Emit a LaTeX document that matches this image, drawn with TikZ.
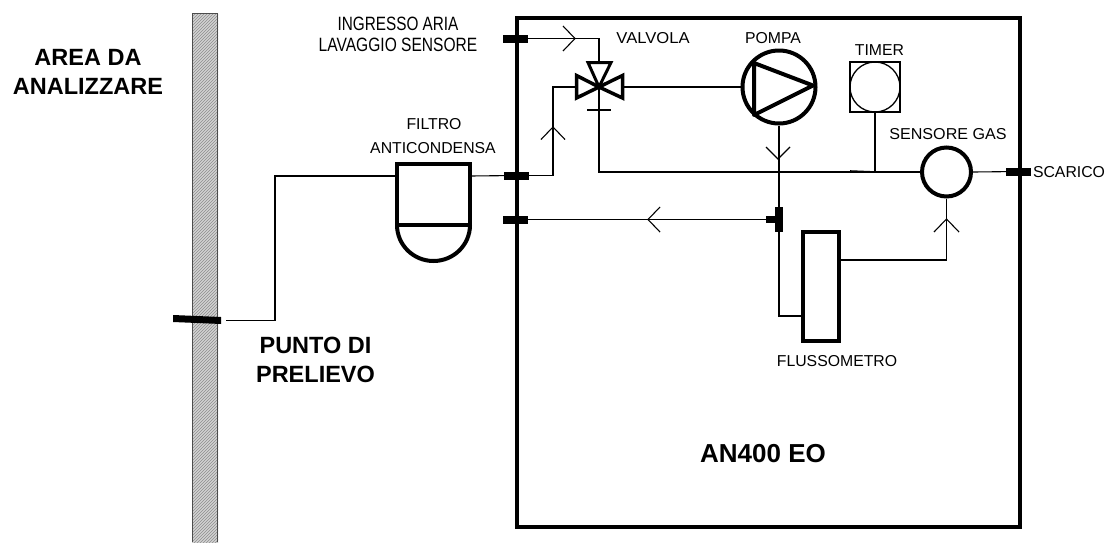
\documentclass[tikz,border=0pt]{standalone}
\usepackage{fontspec}
\setmainfont{Liberation Sans}
\begin{document}
\begin{tikzpicture}[x=1pt,y=-1pt,
  thin line/.style={line width=1.1pt,black},
  thick line/.style={line width=4pt,black,line join=miter},
  mid line/.style={line width=1.6pt,black},
  port/.style={fill=black,inner sep=0pt,minimum width=25pt,minimum height=8pt,draw=none},
  lab/.style={font=\fontsize{15.8}{18}\selectfont,inner sep=0pt,anchor=base,black},
  big/.style={font=\fontsize{23.5}{28}\selectfont\bfseries,inner sep=0pt,anchor=base,black},
  chev/.style={line width=1.1pt,black,line join=miter}
]
\useasboundingbox (0,0) rectangle (1111,542);
% wall
\begin{scope}
\clip (192,13) rectangle (218,542);
\fill[white] (192,13) rectangle (218,542);
\foreach \k in {0,3,...,640}{\draw[line width=1.3pt,gray!80] (170,\k) -- (240,\k-70);}
\end{scope}
\draw[line width=1.4pt,black!70] (192.5,542) -- (192.5,13.5) -- (217.5,13.5) -- (217.5,542);
% main box
\node[draw=black,line width=4pt,minimum width=503.5pt,minimum height=509pt,inner sep=0pt,fill=none] (box) at (768.25,272.5) {};
% ports
\node[port] (pAria) at (515.5,38.5) {};
\node[port] (pFiltro) at (516.5,175.5) {};
\node[port] (pRitorno) at (515.5,219.5) {};
\node[port] (pScarico) at (1018.5,171.5) {};
% wall port
\fill[black] (173,315) -- (221,317) -- (221,324) -- (173,322) -- cycle;
\coordinate (pPrelievo) at (226,320.5);
% filter
\node[inner sep=0pt,minimum size=0pt] (fL) at (397,176) {};
\node[inner sep=0pt,minimum size=0pt] (fR) at (470,176) {};
\draw[thick line] (397,225) -- (397,164) -- (470,164) -- (470,225);
\draw[thick line] (397,225) -- (470,225);
\draw[thick line] (397,225) arc[start angle=180,end angle=0,x radius=36.5,y radius=36,] ;
\draw[thin line] (pPrelievo) -- (275,320.5) -- (275,176) -- (fL);
\draw[thin line] (fR) -- (pFiltro.center);
% valve
\coordinate (vC) at (599,87);
\draw[line width=3.5pt,line join=miter] (vC) -- (576.5,75.5) -- (576.5,98) -- cycle;
\draw[line width=3.5pt,line join=miter] (vC) -- (622.5,75.5) -- (622.5,98) -- cycle;
\draw[line width=3pt,line join=miter] (vC) -- (588,62.5) -- (611,62.5) -- cycle;
\coordinate (vBar) at (599,110);
\draw[thin line] (587,110) -- (611,110);
\draw[thin line] (vC) -- (vBar);
\coordinate (vL) at (575,87);
\coordinate (vR) at (624,87);
\coordinate (vT) at (599,62);
% pump
\node[circle,draw=black,line width=4pt,minimum size=73pt,inner sep=0pt] (pump) at (779,87) {};
\draw[line width=4pt,line join=round] (754,63) -- (813,85.5) -- (754,115) -- cycle;
% timer
\node[draw=black,line width=1.3pt,minimum size=50pt,inner sep=0pt] (timerbox) at (875,87) {};
\node[circle,draw=black,line width=1.3pt,minimum size=50pt,inner sep=0pt] (timer) at (875,87) {};
% sensor
\node[circle,draw=black,line width=4pt,minimum size=49pt,inner sep=0pt] (sens) at (946.5,172) {};
% flow meter
\node[draw=black,line width=4pt,minimum width=36pt,minimum height=109pt,inner sep=0pt] (flow) at (821,286.5) {};
% tee
\node[fill=black,inner sep=0pt,minimum width=8pt,minimum height=25pt] (tee) at (779,219.5) {};
\node[fill=black,inner sep=0pt,minimum width=10pt,minimum height=7pt] (teeS) at (771,219.5) {};
% connectors
\draw[thin line] (pAria.center) -| (vT);
\draw[thin line] (pFiltro.center) -- (553,175.5) -- (553,87) -- (vL);
\draw[thin line] (vBar) |- (sens.west);
\draw[thin line] (vR) -- (pump.west);
\draw[mid line] (624,87) -- (633,87);
\draw[mid line] (727,87) -- (741,87);
\draw[thin line] (pump.south) -- (tee.center);
\draw[thin line] (tee.center) |- (flow.west |- 0,316);
\draw[thin line] (teeS.center) -- (pRitorno.center);
\draw[thin line] (timerbox.south) -- (timerbox.south |- sens.west);
\draw[mid line] (850,171) -- (timerbox.south |- sens.west);
\draw[thin line] (sens.east) -- (pScarico.center);
\draw[thin line] (flow.east |- 0,260) -| (sens.south);
% chevrons
\draw[chev] (563,26) -- (575,38.5) -- (563,51);
\draw[chev] (541,139.5) -- (553,127) -- (565,139.5);
\draw[chev] (766,147) -- (778,159) -- (790,147);
\draw[chev] (660,207) -- (648,219.5) -- (660,232);
\draw[chev] (934,232) -- (946.5,219) -- (959,232);
% labels
\node[lab] (t1) at (398,30) {\scalebox{0.97}[1.22]{INGRESSO ARIA}};
\node[lab] (t2) at (398,51.5) {\scalebox{0.985}[1.22]{LAVAGGIO SENSORE}};
\node[lab] (t3) at (653,43) {\scalebox{1.05}[1]{VALVOLA}};
\node[lab] (t4) at (773,43) {POMPA};
\node[lab] (t5) at (879.5,55) {TIMER};
\node[lab] (t6) at (948,139) {\scalebox{1.02}[1]{SENSORE GAS}};
\node[lab] (t7) at (1069,177) {SCARICO};
\node[lab] (t8) at (837,366) {FLUSSOMETRO};
\node[lab] (t9) at (434,129) {FILTRO};
\node[lab] (t10) at (433,153) {ANTICONDENSA};
\node[big] (b1) at (88,65) {AREA DA};
\node[big] (b2) at (88,94) {ANALIZZARE};
\node[big] (b3) at (315.5,353) {PUNTO DI};
\node[big] (b4) at (315.5,382) {PRELIEVO};
\node[big,font=\fontsize{26}{30}\selectfont\bfseries] (b5) at (763,462) {AN400 EO};
\end{tikzpicture}
\end{document}
